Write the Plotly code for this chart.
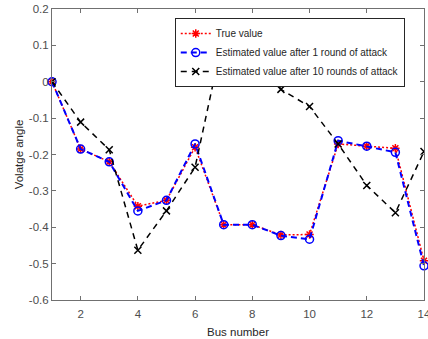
import plotly.graph_objects as go

bus = list(range(1, 15))
true_value = [0, -0.185, -0.22, -0.342, -0.326, -0.18, -0.393, -0.393, -0.421, -0.42, -0.171, -0.177, -0.183, -0.492]
est_1_round = [0, -0.185, -0.22, -0.355, -0.326, -0.171, -0.393, -0.393, -0.423, -0.433, -0.162, -0.177, -0.194, -0.506]
est_10_rounds = [0, -0.111, -0.187, -0.463, -0.355, -0.235, 0.13, 0.125, -0.021, -0.068, -0.171, -0.285, -0.36, -0.192]

x_ticks = [2, 4, 6, 8, 10, 12, 14]
y_ticks = [0.2, 0.1, 0, -0.1, -0.2, -0.3, -0.4, -0.5, -0.6]
y_ticktext = ["0.2", "0.1", "0", "-0.1", "-0.2", "-0.3", "-0.4", "-0.5", "-0.6"]

FONT = "Liberation Sans, Arial, Helvetica"

fig = go.Figure()
fig.add_trace(go.Scatter(
    x=bus, y=true_value, name="True value", mode="lines+markers",
    line=dict(color="#ff0000", width=1.5, dash="2px,2px"),
    marker=dict(symbol="asterisk-open", size=7, line=dict(color="#ff0000", width=1.5)),
    cliponaxis=False))
fig.add_trace(go.Scatter(
    x=bus, y=est_1_round, name="Estimated value after 1 round of attack", mode="lines+markers",
    line=dict(color="#0000ff", width=2, dash="6px,4px"),
    marker=dict(symbol="circle-open", size=8, color="#0000ff", line=dict(color="#0000ff", width=1.5)),
    cliponaxis=False))
fig.add_trace(go.Scatter(
    x=bus, y=est_10_rounds, name="Estimated value after 10 rounds of attack", mode="lines+markers",
    line=dict(color="#000000", width=1.5, dash="6px,5px"),
    marker=dict(symbol="x-thin-open", size=7, line=dict(color="#000000", width=1.5))))

axis_common = dict(
    showline=True, linecolor="#707070", linewidth=1, mirror="ticks",
    ticks="inside", ticklen=4, tickcolor="#707070",
    showgrid=False, zeroline=False, automargin=False,
    ticklabeloverflow="allow",
    tickfont=dict(family=FONT, size=11.5, color="#4d4d4d"),
)

fig.update_xaxes(range=[1, 14], tickvals=x_ticks, ticklabelstandoff=3,
                 title=dict(text="Bus number", font=dict(family=FONT, size=11.5, color="#262626"), standoff=9),
                 **axis_common)
fig.update_yaxes(range=[-0.6, 0.2], tickvals=y_ticks, ticktext=y_ticktext,
                 title=dict(text="Volatge angle", font=dict(family=FONT, size=11.5, color="#262626"), standoff=2),
                 **axis_common)

fig.update_layout(
    width=428, height=339,
    margin=dict(l=52, r=4, t=9, b=39),
    paper_bgcolor="white", plot_bgcolor="white",
    legend=dict(x=0.33, y=0.969, xanchor="left", yanchor="top",
                bgcolor="white", bordercolor="#262626", borderwidth=1,
                font=dict(family=FONT, size=10, color="#262626"),
                tracegroupgap=0, itemwidth=30),
    showlegend=True,
)

# remove the default 8px page margin so the figure fills the 428x339 window
fig.write_html("out.html", config={"displayModeBar": False},
               post_script="document.body.style.margin='0';")
